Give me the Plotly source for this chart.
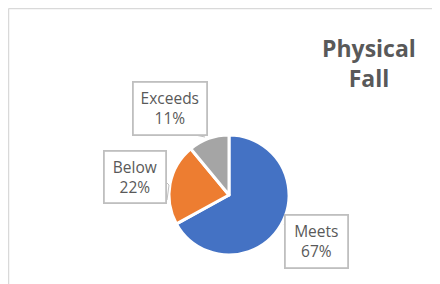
import plotly.graph_objects as go

categories = ["Meets", "Below", "Exceeds"]
values = [67, 22, 11]
colors = ["#4472C4", "#ED7D31", "#A5A5A5"]
title_text = "Physical<br>Fall"

W, H = 440, 284
OX, OY = 8, 8  # page body margin offset


def px(x):
    return (x - OX) / W


def py(y):
    return 1 - (y - OY) / H


total = sum(values)
pct = [f"{round(v / total * 100)}%" for v in values]

fig = go.Figure(go.Pie(
    labels=categories,
    values=values,
    sort=False,
    direction="clockwise",
    rotation=0,
    marker=dict(colors=colors, line=dict(color="white", width=3)),
    textinfo="none",
    hoverinfo="label+percent",
    showlegend=False,
    domain=dict(x=[px(169), px(289)], y=[py(255), py(135)]),
))

box_pos = {"Meets": (316.5, 241.5), "Below": (135, 177), "Exceeds": (170, 108.5)}
box_size = {"Meets": (63, 53), "Below": (62, 52), "Exceeds": (74, 53)}
font = dict(family="Open Sans, Arial, sans-serif", size=15.5, color="#595959")
for c, p in zip(categories, pct):
    cx, cy = box_pos[c]
    fig.add_annotation(
        x=px(cx), y=py(cy), xref="paper", yref="paper",
        text=f"{c}<br>{p}", showarrow=False, font=font,
        bgcolor="white", bordercolor="#BFBFBF", borderwidth=1.8,
        width=box_size[c][0] - 10, height=box_size[c][1] - 10, borderpad=4,
        xanchor="center", yanchor="middle", align="center",
    )

shapes = [
    dict(type="line", xref="paper", yref="paper", x0=px(8.5), x1=px(8.5), y0=-0.05, y1=py(8.5),
         line=dict(color="#D9D9D9", width=1.5)),
    dict(type="line", xref="paper", yref="paper", x0=px(8.5), x1=1.05, y0=py(8.5), y1=py(8.5),
         line=dict(color="#D9D9D9", width=1.5)),
    dict(type="path", xref="paper", yref="paper",
         path=f"M {px(180)} {py(134)} L {px(195)} {py(135)} L {px(205)} {py(137)}",
         line=dict(color="#BFBFBF", width=1)),
    dict(type="path", xref="paper", yref="paper",
         path=f"M {px(166)} {py(182)} L {px(169)} {py(185)} L {px(167)} {py(200)}",
         line=dict(color="#BFBFBF", width=1)),
    dict(type="path", xref="paper", yref="paper",
         path=f"M {px(284)} {py(224)} L {px(288)} {py(230)} L {px(286)} {py(250)}",
         line=dict(color="#BFBFBF", width=1)),
]

fig.add_annotation(
    x=px(368.5), y=py(30), xref="paper", yref="paper",
    text=f"<b>{title_text}</b>", showarrow=False, align="center",
    xanchor="center", yanchor="top",
    font=dict(family="Open Sans, Arial, sans-serif", size=23, color="#595959"),
)

fig.update_layout(
    width=W, height=H,
    margin=dict(l=0, r=0, t=0, b=0),
    paper_bgcolor="white", plot_bgcolor="white",
    shapes=shapes,
)

fig.write_html("out.html")
